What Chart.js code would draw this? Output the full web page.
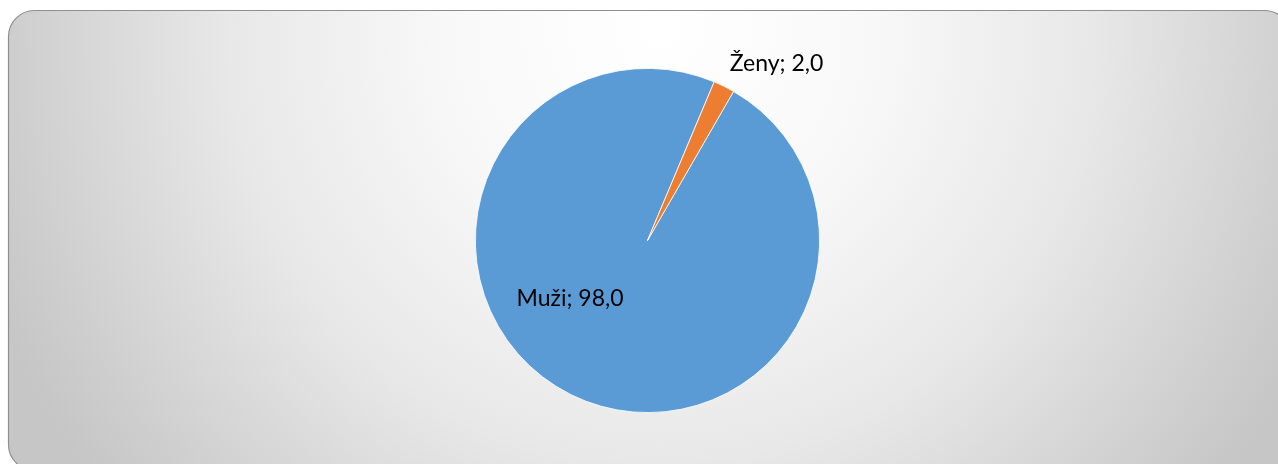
<!DOCTYPE html>
<html>
<head>
<meta charset="utf-8">
<script src="https://cdn.jsdelivr.net/npm/chart.js@4"></script>
<style>
	html, body { margin: 0; padding: 0; background: #ffffff; }
	#wrap { width: 1278px; height: 464px; }
</style>
</head>
<body>
<div id="wrap"><canvas id="pieChart" width="1278" height="464"></canvas></div>
<script>
const pieCanvas = document.getElementById("pieChart");

const categories = ["Muži", "Ženy"];
const values = [98.0, 2.0];
const sliceColors = ["#5B9BD5", "#ED7D31"];

//////////////////////////////// background panel

const panelPlugin = {
	id: "panel",
	beforeDraw(chart) {
		const ctx = chart.ctx;
		const x = 8.5, y = 10.5, w = 1282, h = 460, r = 26;
		ctx.save();
		const grad = ctx.createRadialGradient(660, 30, 0, 660, 30, 720);
		grad.addColorStop(0, "#ffffff");
		grad.addColorStop(0.3, "#f8f8f8");
		grad.addColorStop(0.6, "#e8e8e8");
		grad.addColorStop(0.9, "#cecece");
		grad.addColorStop(1, "#c6c6c6");
		ctx.beginPath();
		ctx.roundRect(x, y, w, h, r);
		ctx.fillStyle = grad;
		ctx.fill();
		ctx.strokeStyle = "#8f8f8f";
		ctx.lineWidth = 1.2;
		ctx.stroke();
		ctx.restore();
	},
};

//////////////////////////////// data labels

const labelOffsets = [
	{ dx: -0.45, dy: 0.335 },
	{ dx: 0.75, dy: -1.03 },
];

const labelPlugin = {
	id: "sliceLabels",
	afterDatasetsDraw(chart) {
		const ctx = chart.ctx;
		const arcs = chart.getDatasetMeta(0).data;
		ctx.save();
		ctx.font = "23px Lato, 'Open Sans', sans-serif";
		ctx.fillStyle = "#000000";
		ctx.textBaseline = "middle";
		ctx.textAlign = "center";
		arcs.forEach((arc, i) => {
			const o = labelOffsets[i];
			const r = arc.outerRadius;
			const text = categories[i] + "; " + values[i].toFixed(1).replace(".", ",");
			ctx.fillText(text, arc.x + o.dx * r, arc.y + o.dy * r);
		});
		ctx.restore();
	},
};

const pieData = {
	labels: categories,
	datasets: [
		{
			data: values,
			backgroundColor: sliceColors,
			borderColor: "#ffffff",
			borderWidth: 0.8,
		},
	],
};

const pieOptions = {
	responsive: false,
	animation: false,
	rotation: 30,
	layout: {
		padding: { top: 68, bottom: 51, left: 17, right: 0 },
	},
	plugins: {
		legend: { display: false },
		tooltip: { enabled: false },
	},
};

new Chart(pieCanvas, {
	type: "pie",
	data: pieData,
	options: pieOptions,
	plugins: [panelPlugin, labelPlugin],
});
</script>
</body>
</html>
